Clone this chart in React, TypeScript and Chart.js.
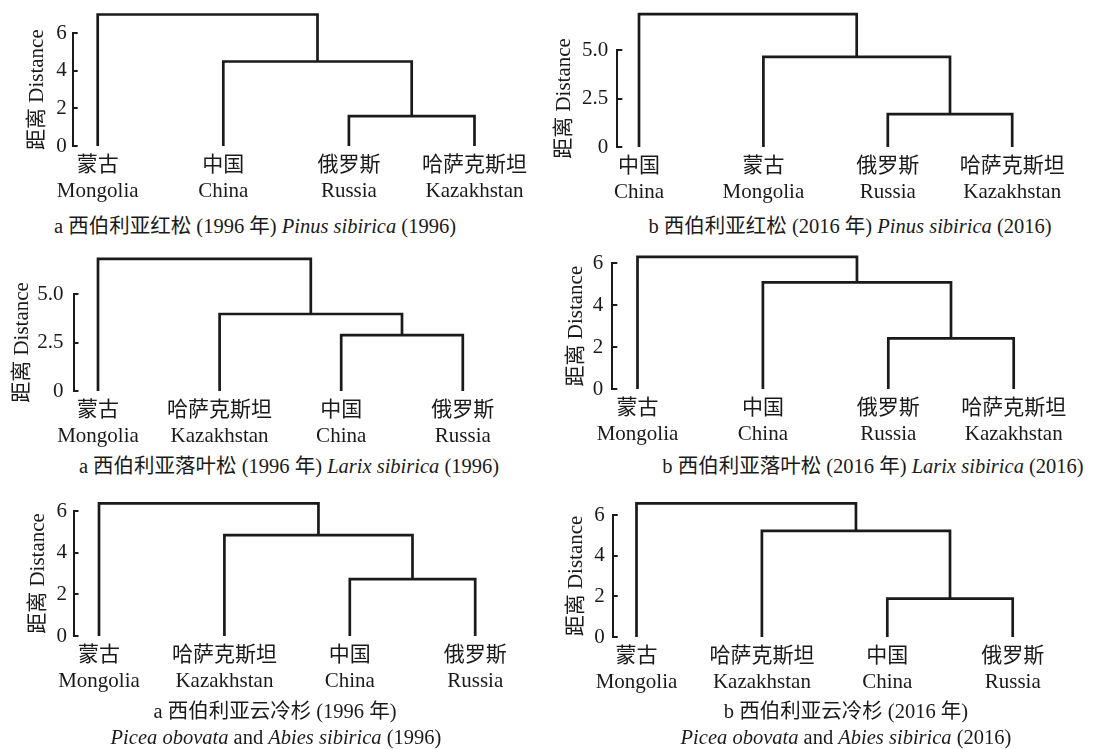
import React, { useEffect, useRef } from 'react';
import { Chart, registerables } from 'chart.js';

Chart.register(...registerables);

const FONT = "'Liberation Serif', 'Times New Roman', 'Noto Sans CJK SC', serif";
const INK = '#1a1a1a';

// ---- data ----
// merge order shared by all six trees: leaves 3&4 join first, then leaf 2, then leaf 1.
// child indices 0..3 are leaves, 4.. are earlier merges.
const mergePairs: number[][] = [[2, 3], [1, 4], [0, 5]];

const ticksInt = [0, 2, 4, 6];
const ticksIntLabels = ['0', '2', '4', '6'];
const ticksHalf = [0, 2.5, 5];
const ticksHalfLabels = ['0', '2.5', '5.0'];

const pinus1996Cn = ['蒙古', '中国', '俄罗斯', '哈萨克斯坦'];
const pinus1996En = ['Mongolia', 'China', 'Russia', 'Kazakhstan'];
const pinus1996Heights = [1.59, 4.5, 7.0];

const pinus2016Cn = ['中国', '蒙古', '俄罗斯', '哈萨克斯坦'];
const pinus2016En = ['China', 'Mongolia', 'Russia', 'Kazakhstan'];
const pinus2016Heights = [1.69, 4.65, 6.85];

const larix1996Cn = ['蒙古', '哈萨克斯坦', '中国', '俄罗斯'];
const larix1996En = ['Mongolia', 'Kazakhstan', 'China', 'Russia'];
const larix1996Heights = [2.88, 3.97, 6.81];

const larix2016Cn = ['蒙古', '中国', '俄罗斯', '哈萨克斯坦'];
const larix2016En = ['Mongolia', 'China', 'Russia', 'Kazakhstan'];
const larix2016Heights = [2.42, 5.09, 6.31];

const picea1996Cn = ['蒙古', '哈萨克斯坦', '中国', '俄罗斯'];
const picea1996En = ['Mongolia', 'Kazakhstan', 'China', 'Russia'];
const picea1996Heights = [2.73, 4.84, 6.37];

const picea2016Cn = ['蒙古', '哈萨克斯坦', '中国', '俄罗斯'];
const picea2016En = ['Mongolia', 'Kazakhstan', 'China', 'Russia'];
const picea2016Heights = [1.89, 5.22, 6.57];

const axisTitle = '距离 Distance';

// ---- layout (pixels) ----
type Panel = {
  cn: string[]; en: string[]; heights: number[];
  tickVals: number[]; tickLabels: string[];
  left: number; rowTop: number; axisX: number; yLast: number; y0: number;
  leaf1: number; step: number; titleCx: number; gap: number;
};

const panels: Panel[] = [
  { cn: pinus1996Cn, en: pinus1996En, heights: pinus1996Heights, tickVals: ticksInt, tickLabels: ticksIntLabels,
    left: 0, rowTop: 0, axisX: 72.7, yLast: 33.3, y0: 145.7, leaf1: 97.7, step: 125.6, titleCx: 37.5, gap: 6 },
  { cn: pinus2016Cn, en: pinus2016En, heights: pinus2016Heights, tickVals: ticksHalf, tickLabels: ticksHalfLabels,
    left: 549, rowTop: 0, axisX: 68.3, yLast: 50, y0: 146.7, leaf1: 90, step: 124.4, titleCx: 15.8, gap: 9 },
  { cn: larix1996Cn, en: larix1996En, heights: larix1996Heights, tickVals: ticksHalf, tickLabels: ticksHalfLabels,
    left: 0, rowTop: 245, axisX: 73.5, yLast: 294, y0: 390.7, leaf1: 98, step: 121.6, titleCx: 22, gap: 10 },
  { cn: larix2016Cn, en: larix2016En, heights: larix2016Heights, tickVals: ticksInt, tickLabels: ticksIntLabels,
    left: 549, rowTop: 240, axisX: 63.3, yLast: 263.3, y0: 389, leaf1: 88.5, step: 125.4, titleCx: 27.5, gap: 9 },
  { cn: picea1996Cn, en: picea1996En, heights: picea1996Heights, tickVals: ticksInt, tickLabels: ticksIntLabels,
    left: 0, rowTop: 490, axisX: 73.5, yLast: 511, y0: 635.7, leaf1: 99, step: 125.4, titleCx: 38.5, gap: 6.5 },
  { cn: picea2016Cn, en: picea2016En, heights: picea2016Heights, tickVals: ticksInt, tickLabels: ticksIntLabels,
    left: 549, rowTop: 490, axisX: 63.7, yLast: 515, y0: 636.7, leaf1: 87.5, step: 125.4, titleCx: 27, gap: 8 },
];

type Cap = { cx: number; cy: number; parts: [string, boolean][] };
const captions: Cap[] = [
  { cx: 255, cy: 226, parts: [['a 西伯利亚红松 (1996 年) ', false], ['Pinus sibirica', true], [' (1996)', false]] },
  { cx: 850, cy: 226, parts: [['b 西伯利亚红松 (2016 年) ', false], ['Pinus sibirica', true], [' (2016)', false]] },
  { cx: 289, cy: 466, parts: [['a 西伯利亚落叶松 (1996 年) ', false], ['Larix sibirica', true], [' (1996)', false]] },
  { cx: 873, cy: 466, parts: [['b 西伯利亚落叶松 (2016 年) ', false], ['Larix sibirica', true], [' (2016)', false]] },
  { cx: 275, cy: 711, parts: [['a 西伯利亚云冷杉 (1996 年)', false]] },
  { cx: 276, cy: 737, parts: [['Picea obovata', true], [' and ', false], ['Abies sibirica', true], [' (1996)', false]] },
  { cx: 846, cy: 711, parts: [['b 西伯利亚云冷杉 (2016 年)', false]] },
  { cx: 846, cy: 737, parts: [['Picea obovata', true], [' and ', false], ['Abies sibirica', true], [' (2016)', false]] },
];

const X_AXIS_H = 62;
const X_MAX = 4.4;
const PANEL_W = 549;

const innerTicks = {
  id: 'innerTicks',
  afterDraw(chart: any) {
    const y = chart.scales.y;
    const left = chart.chartArea.left;
    const ctx = chart.ctx;
    ctx.save();
    ctx.strokeStyle = INK;
    ctx.lineWidth = 2;
    y.ticks.forEach((t: any) => {
      const py = Math.round(y.getPixelForValue(t.value));
      ctx.beginPath();
      ctx.moveTo(left, py);
      ctx.lineTo(left + 5, py);
      ctx.stroke();
    });
    ctx.restore();
  },
};

function buildSegments(heights: number[]) {
  const nodeX: number[] = [];
  const nodeH: number[] = [];
  const xOf = (c: number) => (c < 4 ? c + 1 : nodeX[c - 4]);
  const hOf = (c: number) => (c < 4 ? 0 : nodeH[c - 4]);
  return mergePairs.map(([a, b], k) => {
    const h = heights[k];
    const xa = xOf(a), xb = xOf(b);
    const seg = [
      { x: xa, y: hOf(a) },
      { x: xa, y: h },
      { x: xb, y: h },
      { x: xb, y: hOf(b) },
    ];
    nodeX.push((xa + xb) / 2);
    nodeH.push(h);
    return seg;
  });
}

function Dendrogram({ p }: { p: Panel }) {
  const ref = useRef<HTMLCanvasElement | null>(null);
  const padTop = p.yLast - p.rowTop;
  const plotH = p.y0 - p.yLast;
  const height = Math.round(padTop + plotH + X_AXIS_H);
  const xMin = 1 - (p.leaf1 - p.axisX) / p.step;
  const chartRight = p.axisX + (X_MAX - xMin) * p.step;
  const padRight = PANEL_W - chartRight;

  useEffect(() => {
    if (!ref.current) return;
    const segs = buildSegments(p.heights);
    const chart = new Chart(ref.current, {
      type: 'line',
      data: {
        datasets: segs.map((s) => ({
          data: s,
          borderColor: INK,
          borderWidth: 2.7,
          pointRadius: 0,
          fill: false,
          tension: 0,
          clip: false as any,
          borderJoinStyle: 'miter' as const,
        })),
      },
      options: {
        animation: false,
        responsive: false,
        events: [],
        layout: { padding: { left: 0, top: padTop, right: padRight, bottom: 0 } },
        plugins: { legend: { display: false }, tooltip: { enabled: false }, title: { display: false } },
        scales: {
          x: {
            type: 'linear',
            min: xMin,
            max: X_MAX,
            border: { display: false },
            grid: { display: false, drawTicks: false },
            afterBuildTicks: (s: any) => {
              s.ticks = p.cn.map((_, i) => ({ value: i + 1 }));
            },
            afterFit: (s: any) => {
              s.height = X_AXIS_H;
            },
            ticks: {
              autoSkip: false,
              maxRotation: 0,
              minRotation: 0,
              padding: 6,
              color: INK,
              font: { family: FONT, size: 21, lineHeight: 1.24 },
              callback: (v: any) => {
                const i = Math.round(Number(v)) - 1;
                return [p.cn[i], p.en[i]];
              },
            },
          },
          y: {
            type: 'linear',
            min: 0,
            max: p.tickVals[p.tickVals.length - 1],
            border: { display: true, color: INK, width: 2 },
            grid: { display: false, drawTicks: false },
            afterBuildTicks: (s: any) => {
              s.ticks = p.tickVals.map((v) => ({ value: v }));
            },
            afterFit: (s: any) => {
              s.width = p.axisX;
            },
            ticks: {
              padding: p.gap,
              color: INK,
              font: { family: FONT, size: 21 },
              callback: (_v: any, i: number) => p.tickLabels[i],
            },
            title: {
              display: true,
              text: axisTitle,
              color: INK,
              font: { family: FONT, size: 21, lineHeight: 1.2 },
              padding: { top: Math.max(0, p.titleCx - 12.6), bottom: 0 },
            },
          },
        },
      },
      plugins: [innerTicks],
    } as any);
    return () => chart.destroy();
  }, []);

  return (
    <canvas
      ref={ref}
      width={PANEL_W}
      height={height}
      style={{ position: 'absolute', left: p.left, top: p.rowTop, width: PANEL_W, height }}
    />
  );
}

export default function App() {
  return (
    <div
      style={{
        position: 'absolute',
        left: 0,
        top: 0,
        width: 1098,
        height: 749,
        background: '#ffffff',
        overflow: 'hidden',
      }}
    >
      {panels.map((p, i) => (
        <Dendrogram key={i} p={p} />
      ))}
      {captions.map((c, i) => (
        <div
          key={'c' + i}
          style={{
            position: 'absolute',
            left: c.cx - 350,
            top: c.cy - 13,
            width: 700,
            height: 26,
            lineHeight: '26px',
            textAlign: 'center',
            whiteSpace: 'nowrap',
            fontFamily: FONT,
            fontSize: 20.5,
            color: INK,
          }}
        >
          {c.parts.map(([t, it], j) =>
            it ? <i key={j}>{t}</i> : <span key={j}>{t}</span>
          )}
        </div>
      ))}
    </div>
  );
}
